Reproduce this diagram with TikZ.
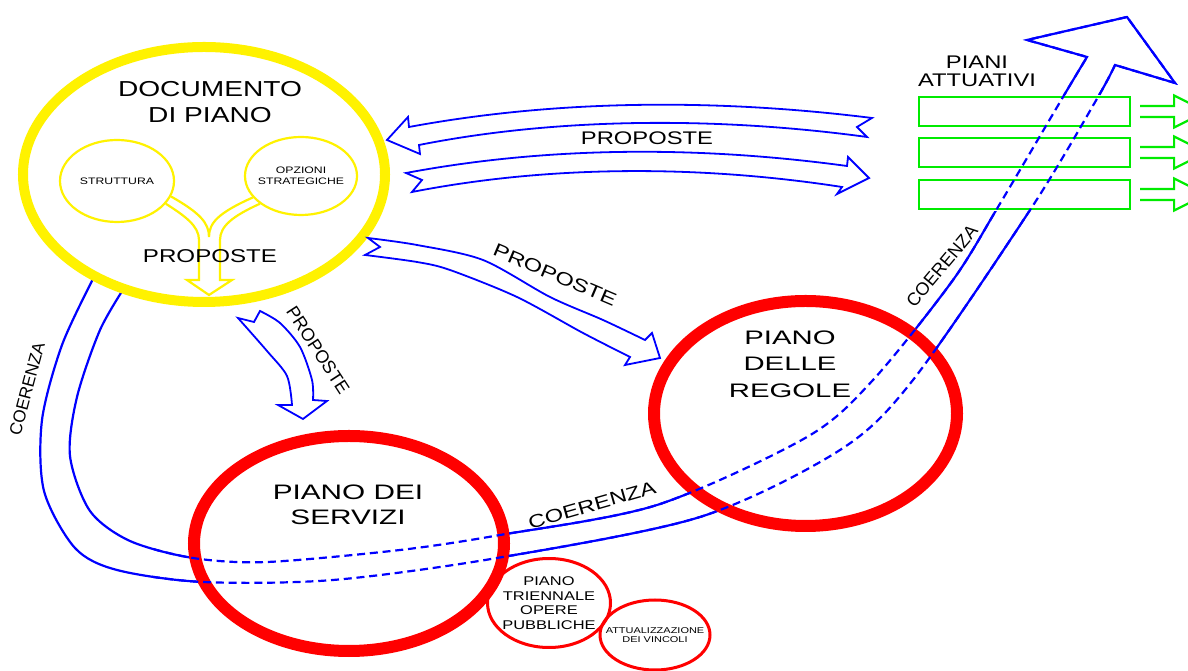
\documentclass[tikz,border=0pt]{standalone}
\usepackage{fontspec}
\setmainfont{Liberation Sans}
\newfontfamily\wide[FakeStretch=1.3]{Liberation Sans}
\newfontfamily\wider[FakeStretch=1.42]{Liberation Sans}
\newfontfamily\widest[FakeStretch=1.5]{Liberation Sans}
\usetikzlibrary{shapes.geometric}
\definecolor{pagreen}{RGB}{0,235,0}
% the coerenza band, drawn twice (solid, then dashed where hidden)
\newcommand{\coeband}{plot[smooth] coordinates {(93,392) (62,326) (42,251)
  (44,180) (75,123) (117,101) (203,89) (333,91) (497,113) (700,154) (840,221)
  (913,291) (1032,464) (1098,574) (1115,606)} -- (1175,588) -- (1127,654)
  -- (1027,631) -- (1087,614) -- plot[smooth] coordinates {(1087,614)
  (1063,574) (998,464) (953,391) (873,291) (807,234) (657,166) (500,136)
  (400,121) (267,109) (193,113) (130,130) (90,160) (70,215) (77,274)
  (100,341) (126,386)}}

\begin{document}
\begin{tikzpicture}[x=0.25mm,y=0.25mm,
  ring/.style={ellipse,draw=red,line width=3mm,fill=white,inner sep=0pt},
  subring/.style={ellipse,draw=red,line width=0.75mm,inner sep=0pt},
  yring/.style={ellipse,draw=yellow,line width=2.5mm,fill=white,inner sep=0pt},
  ysub/.style={ellipse,draw=yellow,line width=0.55mm,inner sep=0pt},
  fork/.style={draw=yellow,line width=0.55mm},
  blk/.style={draw=blue,line width=0.45mm},
  band/.style={draw=blue,line width=0.55mm},
  plan/.style={rectangle,draw=pagreen,line width=0.55mm,
    minimum width=52.75mm,minimum height=7.25mm,inner sep=0pt},
  paarrow/.style={draw=pagreen,line width=0.55mm},
  lab/.style={align=center,inner sep=0pt},
  big/.style={lab,font=\wide\fontsize{15.4}{18.5}\selectfont},
  mid/.style={lab,font=\wide\fontsize{13}{12.8}\selectfont},
  plain/.style={lab,font=\fontsize{12.8}{14}\selectfont},
  tiny/.style={lab,font=\wide\fontsize{6.7}{7.8}\selectfont}
]
  \useasboundingbox (0,0) rectangle (1188,671);
  \clip (0,0) rectangle (1188,671);

  % coerenza band, solid
  \draw[band] \coeband;

  % documento di piano
  \node[yring,minimum width=90.5mm,minimum height=63.75mm] (doc) at (204,496.5) {};
  \node[ysub,minimum width=28.5mm,minimum height=20.5mm] (strut) at (117,490) {};
  \node[ysub,minimum width=28mm,minimum height=19.5mm] (opz) at (301,495) {};
  \draw[fork] (strut.-25) .. controls (185,455) and (199,445) .. (199,431)
    -- (199,391) -- (187,391) -- (209,376) -- (232,391) -- (220,391)
    -- (220,431) .. controls (220,445) and (233,455) .. (opz.214);
  \draw[fork] (strut.-16) .. controls (200,458) and (209,448) .. (209,434)
    .. controls (209,448) and (218,458) .. (opz.204);
  \node[big] (doctxt) at (210,569) {DOCUMENTO\\DI PIANO};
  \node[tiny] (struttxt) at (strut) {STRUTTURA};
  \node[tiny] (opztxt) at (opz) {OPZIONI\\STRATEGICHE};
  \node[lab,font=\wide\fontsize{13.2}{14}\selectfont] (propdoc) at (210,415) {PROPOSTE};

  % piani
  \node[ring,minimum width=77.5mm,minimum height=53.75mm] (servizi) at (349,127.5) {};
  \node[ring,minimum width=75.75mm,minimum height=56.25mm] (regole) at (805.5,257.5) {};
  \node[subring,minimum width=30.75mm,minimum height=22.25mm] (trienn) at (549,68) {};
  \node[subring,minimum width=27.5mm,minimum height=17.5mm] (vincoli) at (655,36) {};
  \node[lab,font=\wider\fontsize{14.9}{17.8}\selectfont] (servtxt) at (348,166.5) {PIANO DEI\\SERVIZI};
  \node[lab,font=\widest\fontsize{13.9}{18.8}\selectfont] (regtxt) at (790,307) {PIANO\\DELLE\\REGOLE};
  \node[lab,font=\wide\fontsize{9}{10.4}\selectfont] (trienntxt) at (trienn) {PIANO\\TRIENNALE\\OPERE\\PUBBLICHE};
  \node[lab,font=\wide\fontsize{6}{6.4}\selectfont] (vinctxt) at (vincoli) {ATTUALIZZAZIONE\\DEI VINCOLI};

  % piani attuativi
  \fill[white] (915,460) rectangle (1134,576);
  \foreach \yy/\n in {559.5/1,518.5/2,476.5/3} {
    \node[plan] (pa\n) at (1024.5,\yy) {};
    \draw[paarrow] ([xshift=2.25mm,yshift=1.375mm]pa\n.east) -- ++(34,0)
      -- ++(0,10.5) -- ++(32,-16) -- ++(-32,-16) -- ++(0,10.5) -- ++(-34,0);
  }
  \node[mid] (patxt) at (977,600) {PIANI\\ATTUATIVI};

  % proposte arrows
  \draw[blk] (387,531) -- (408,554) -- (409,544) .. controls (560,572) and (720,572)
    .. (872,553) -- (857,544) -- (867,534) .. controls (720,554) and (560,554)
    .. (419,526) -- (420,517) -- cycle;
  \draw[blk] (406,498) -- (422,491) -- (412,479) .. controls (550,506) and (700,506)
    .. (842,484) -- (837,477) -- (869,493) -- (848,514) -- (847,505)
    .. controls (700,525) and (550,525) .. (406,498) -- cycle;
  \node[mid] (proptop) at (647,533) {PROPOSTE};
  \draw[blk] (368,433) -- (380,424) -- (365,416) -- plot[smooth] coordinates
    {(365,416) (417,409) (450,401) (517,374) (583,338) (630,314)} -- (625,306)
    -- (660,313) -- (652,338) -- (645,331) -- plot[smooth] coordinates
    {(645,331) (603,351) (550,374) (483,411) (417,426) (368,433)} -- cycle;
  \node[mid,rotate=-23] (propreg) at (555,396) {PROPOSTE};
  \draw[blk] (238,353) -- (254,349) -- (260,360) -- plot[smooth] coordinates
    {(260,360) (280,348) (300,324) (312,291) (313,271)} -- (327,270) -- (303,252)
    -- (278,266) -- (292,266) -- plot[smooth] coordinates
    {(292,266) (287,295) (267,320) (238,353)} -- cycle;
  \node[plain,rotate=-57] (propserv) at (318,321) {PROPOSTE};

  % coerenza labels
  \node[plain,font=\fontsize{12.2}{14}\selectfont,rotate=75] (coe1) at (27,282) {COERENZA};
  \node[mid,rotate=16] (coe2) at (592,166) {COERENZA};
  \node[plain,rotate=50] (coe3) at (942,405) {COERENZA};

  % coerenza band, dashed where it runs behind
  \begin{scope}
    \clip (150,0) rectangle (1188,671);
    \draw[band,dash pattern=on 2mm off 1.2mm] \coeband;
  \end{scope}
\end{tikzpicture}
\end{document}
